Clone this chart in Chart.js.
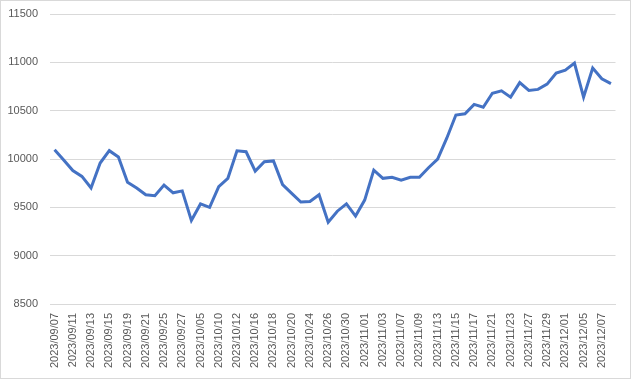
<!DOCTYPE html>
<html>
<head>
<meta charset="utf-8">
<script src="https://cdn.jsdelivr.net/npm/chart.js@4/dist/chart.umd.min.js"></script>
<style>
html,body{margin:0;padding:0;background:#fff;}
#wrap{width:631px;height:379px;position:relative;}
</style>
</head>
<body>
<div id="wrap"><canvas id="c" width="631" height="379"></canvas></div>
<script>
const dates = ["2023/09/07","2023/09/08","2023/09/11","2023/09/12","2023/09/13","2023/09/14","2023/09/15","2023/09/18","2023/09/19","2023/09/20","2023/09/21","2023/09/22","2023/09/25","2023/09/26","2023/09/27","2023/10/04","2023/10/05","2023/10/06","2023/10/10","2023/10/11","2023/10/12","2023/10/13","2023/10/16","2023/10/17","2023/10/18","2023/10/19","2023/10/20","2023/10/23","2023/10/24","2023/10/25","2023/10/26","2023/10/27","2023/10/30","2023/10/31","2023/11/01","2023/11/02","2023/11/03","2023/11/06","2023/11/07","2023/11/08","2023/11/09","2023/11/10","2023/11/13","2023/11/14","2023/11/15","2023/11/16","2023/11/17","2023/11/20","2023/11/21","2023/11/22","2023/11/23","2023/11/24","2023/11/27","2023/11/28","2023/11/29","2023/11/30","2023/12/01","2023/12/04","2023/12/05","2023/12/06","2023/12/07","2023/12/08"];
const values = [10095,9990,9880,9820,9700,9958,10086,10020,9760,9700,9630,9620,9730,9650,9670,9365,9535,9500,9715,9800,10085,10075,9875,9972,9980,9735,9645,9555,9560,9630,9345,9460,9535,9410,9575,9885,9800,9810,9780,9810,9810,9910,10000,10215,10455,10468,10565,10535,10680,10705,10640,10790,10710,10720,10775,10890,10920,10993,10640,10940,10830,10780];
const yMin = 8500, yMax = 11500, yStep = 500;

const borderPlugin = {
  id: 'outerBorder',
  afterDraw(chart) {
    const ctx = chart.ctx;
    ctx.save();
    ctx.strokeStyle = '#d9d9d9';
    ctx.lineWidth = 1;
    ctx.strokeRect(0.5, 0.5, chart.width - 1, chart.height - 1);
    ctx.restore();
  }
};

new Chart(document.getElementById('c'), {
  type: 'line',
  data: {
    labels: dates,
    datasets: [{
      data: values,
      borderColor: '#4472C4',
      borderWidth: 3,
      pointRadius: 0,
      tension: 0,
      fill: false
    }]
  },
  options: {
    responsive: false,
    animation: false,
    devicePixelRatio: 1,
    layout: { padding: { left: 0, right: 15.5, top: 14, bottom: 0 } },
    plugins: { legend: { display: false }, tooltip: { enabled: false } },
    scales: {
      x: {
        type: 'category',
        offset: true,
        grid: { display: true, drawOnChartArea: false, drawTicks: true, tickLength: 9, color: 'transparent', tickColor: 'transparent' },
        border: { display: true, color: '#d9d9d9', width: 1 },
        ticks: {
          autoSkip: false,
          minRotation: 90,
          maxRotation: 90,
          padding: 0,
          color: '#595959',
          font: { family: 'Liberation Sans', size: 11 },
          callback: function(v, i) { return i % 2 === 0 ? dates[i] : ''; }
        },
        afterFit: function(s) { s.height = 75; }
      },
      y: {
        min: yMin,
        max: yMax,
        grid: { color: '#d9d9d9', lineWidth: 1, drawTicks: true, tickLength: 12, tickColor: 'transparent' },
        border: { display: false },
        ticks: {
          stepSize: yStep,
          padding: 0,
          color: '#595959',
          font: { family: 'Liberation Sans', size: 11 },
          callback: function(v) { return String(v); }
        },
        afterFit: function(s) { s.width = 50; }
      }
    }
  },
  plugins: [borderPlugin]
});
</script>
</body>
</html>
